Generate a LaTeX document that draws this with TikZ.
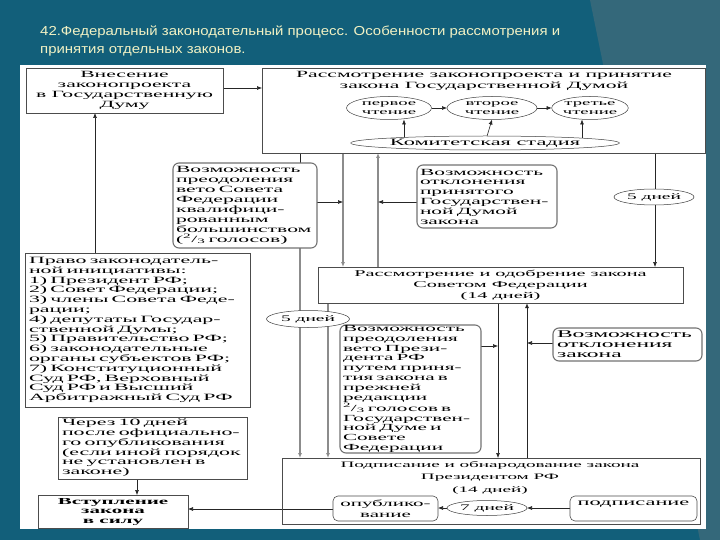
\documentclass[tikz,border=0pt]{standalone}
\usepackage{fontspec}
\setmainfont{Liberation Serif}
\newfontfamily\scanfont[FakeStretch=2.28]{Liberation Serif}
\newfontfamily\ttlfont[FakeStretch=1.15]{Liberation Sans}
\usetikzlibrary{arrows.meta,shapes.geometric}
\pgfdeclarelayer{bg}
\pgfdeclarelayer{lines}
\pgfsetlayers{bg,lines,main}
\definecolor{tealbg}{RGB}{18,95,122}
\definecolor{tealhi}{RGB}{52,104,122}
\definecolor{ttlyellow}{RGB}{242,242,196}
\tikzset{
  bx/.style={draw=black!70, line width=0.6pt, inner sep=0pt, outer sep=0pt, align=center,
    font=\scanfont\fontsize{9.5}{9.8}\selectfont},
  lbx/.style={bx, align=left, inner xsep=5pt},
  rbx/.style={lbx, rounded corners=6pt, draw=black!55, line width=1.1pt},
  ell/.style={ellipse, draw=black!75, line width=0.5pt, fill=white, inner sep=0pt, outer sep=0pt,
    align=center, font=\scanfont\fontsize{8.2}{8.5}\selectfont},
  con/.style={black!85, line width=0.6pt},
  gcon/.style={black!45, line width=1.6pt},
  arr/.style={-{Latex[length=5pt,width=4pt]}},
}
\begin{document}
\begin{tikzpicture}[x=1pt,y=-1pt]
\useasboundingbox (0,0) rectangle (720,540);
\begin{pgfonlayer}{bg}
\fill[tealbg] (0,0) rectangle (720,540);
\fill[tealhi] (590,0) -- (720,0) -- (720,540) -- (700,540) -- cycle;
\fill[white] (20,65) rectangle (706,529);
\end{pgfonlayer}

% title
\node[anchor=west, text=ttlyellow, align=left, inner sep=0pt,
  font=\ttlfont\fontsize{13}{18}\selectfont] (title) at (40,41)
  {42.Федеральный законодательный процесс. Особенности рассмотрения и\\принятия отдельных законов.};

% coordinates for connector columns and rows
\coordinate (x95) at (95,0);
\coordinate (x137) at (137,0);
\coordinate (x300) at (300,0);
\coordinate (x328) at (328,0);
\coordinate (x343) at (343,0);
\coordinate (x378) at (378,0);
\coordinate (x404) at (404,0);
\coordinate (x582) at (582,0);
\coordinate (x498) at (498,0);
\coordinate (x527) at (527,0);
\coordinate (x655) at (655,0);
\coordinate (y88) at (0,88);
\coordinate (y202) at (0,202);
\coordinate (y346) at (0,346);
\coordinate (y343) at (0,343);
\coordinate (y509) at (0,509);

% boxes
\node[bx, minimum width=197, minimum height=45] (box1) at (124.5,90.5)
  {Внесение\\законопроекта\\в Государственную\\Думу};
\node[bx, minimum width=443, minimum height=85] (big) at (483.5,110.5) {};
\node[bx, draw=none, font=\scanfont\fontsize{9.5}{11}\selectfont] (bigtitle) at (484,81)
  {Рассмотрение законопроекта и принятие\\закона Государственной Думой};
\node[ell, minimum width=85, minimum height=23] (p1) at (389,108) {первое\\чтение};
\node[ell, minimum width=90, minimum height=23] (p2) at (492,108) {второе\\чтение};
\node[ell, minimum width=75, minimum height=23] (p3) at (590,108) {третье\\чтение};
\node[ell, minimum width=215, minimum height=14, font=\scanfont\fontsize{9.8}{9.8}\selectfont] (kom) at (485,143) {Комитетская стадия};

\node[rbx, text width=138, inner xsep=3pt, minimum height=85, font=\scanfont\fontsize{9.5}{10}\selectfont] (veto1) at (245,205.5)
  {Возможность\\преодоления\\вето Совета\\Федерации\\квалифици-\\рованным\\большинством\\(\textsuperscript{2}/\textsubscript{3} голосов)};
\node[rbx, text width=134, inner xsep=3pt, minimum height=63, font=\scanfont\fontsize{9.4}{9.8}\selectfont] (otkl1) at (487,196.5)
  {Возможность\\отклонения\\принятого\\Государствен-\\ной Думой\\закона};
\node[ell, minimum width=80, minimum height=16, font=\scanfont\fontsize{8.5}{8.5}\selectfont] (d5a) at (654,197) {5 дней};

\node[bx, minimum width=365, minimum height=36, font=\scanfont\fontsize{8.9}{10.8}\selectfont] (sf) at (500.5,285)
  {Рассмотрение и одобрение закона\\Советом Федерации\\(14 дней)};
\node[ell, minimum width=83, minimum height=17, font=\scanfont\fontsize{8.5}{8.5}\selectfont] (d5b) at (308,319) {5 дней};

\node[rbx, text width=135, inner xsep=3pt, minimum height=128, font=\scanfont\fontsize{9.3}{9.8}\selectfont] (veto2) at (410.5,389)
  {Возможность\\преодоления\\вето Прези-\\дента РФ\\путем приня-\\тия закона в\\прежней\\редакции\\\textsuperscript{2}/\textsubscript{3} голосов в\\Государствен-\\ной Думе и\\Совете\\Федерации};
\node[rbx, text width=141, inner xsep=4pt, minimum height=33, font=\scanfont\fontsize{10.3}{10}\selectfont] (otkl2) at (627.5,344.5)
  {Возможность\\отклонения\\закона};

\node[lbx, text width=217, inner xsep=4pt, minimum height=154, font=\scanfont\fontsize{9.6}{9.8}\selectfont] (pravo) at (137.5,330)
  {Право законодатель-\\ной инициативы:\\1) Президент РФ;\\2) Совет Федерации;\\3) члены Совета Феде-\\рации;\\4) депутаты Государ-\\ственной Думы;\\5) Правительство РФ;\\6) законодательные\\органы субъектов РФ;\\7) Конституционный\\Суд РФ, Верховный\\Суд РФ и Высший\\Арбитражный Суд РФ};
\node[lbx, text width=181, inner xsep=4pt, minimum height=62, font=\scanfont\fontsize{9.6}{9.8}\selectfont] (cherez) at (152.5,448)
  {Через 10 дней\\после официально-\\го опубликования\\(если иной порядок\\не установлен в\\законе)};
\node[bx, minimum width=150, minimum height=33, font=\scanfont\bfseries\fontsize{9.2}{9.5}\selectfont] (vstup) at (113,511.5)
  {Вступление\\закона\\в силу};

\node[bx, minimum width=418, minimum height=66] (sign) at (491,491) {};
\node[bx, draw=none, font=\scanfont\fontsize{8.4}{12.5}\selectfont] (signtitle) at (490,477.5)
  {Подписание и обнародование закона\\Президентом РФ\\(14 дней)};
\node[bx, rounded corners=5pt, minimum width=105, minimum height=25, font=\scanfont\fontsize{9.2}{11}\selectfont] (opub) at (385.5,508.5)
  {опублико-\\вание};
\node[ell, minimum width=80, minimum height=15, font=\scanfont\fontsize{8.5}{8.5}\selectfont] (d7) at (487,508) {7 дней};
\node[bx, rounded corners=5pt, minimum width=127, minimum height=25, font=\scanfont\fontsize{9.8}{8}\selectfont] (podp) at (633.5,508.5)
  {подписание\\\strut};

% connectors
\begin{pgfonlayer}{lines}
\draw[con, arr] (box1.east |- y88) -- (big.west |- y88);
\draw[con, arr] (x95 |- pravo.north) -- (x95 |- box1.south);
\draw[con, arr] (p1.east) -- (p2.west);
\draw[con, arr] (p2.east) -- (p3.west);
\draw[con, arr] (x404 |- kom.center) -- (x404 |- p1.south);
\draw[con, arr] (kom.center) -- (p2.south);
\draw[con, arr] (x582 |- kom.center) -- (x582 |- p3.south);

\draw[gcon, arr] (x343 |- big.south) -- (x343 |- sf.north);
\draw[gcon, arr] (x378 |- sf.north) -- (x378 |- big.south);
\draw[con, arr] (veto1.east |- y202) -- (x343 |- y202);
\draw[con, arr] (otkl1.west |- y202) -- (x378 |- y202);
\draw[con, arr] (x655 |- big.south) -- (x655 |- sf.north);

\draw[con] (x300 |- big.south) -- (x300 |- veto1.north);
\draw[gcon, arr] (x300 |- veto1.south) -- (x300 |- sign.north);
\draw[gcon, arr] (x328 |- sf.south) -- (x328 |- sign.north);
\draw[con, arr] (x498 |- sf.south) -- (x498 |- sign.north);
\draw[con, line width=1pt, arr] (x527 |- sign.north) -- (x527 |- sf.south);
\draw[con, arr] (veto2.east |- y346) -- (x498 |- y346);
\draw[con, arr] (otkl2.west |- y343) -- (x527 |- y343);

\draw[con, arr] (x137 |- cherez.south) -- (x137 |- vstup.north);
\draw[con, arr] (opub.west |- y509) -- (vstup.east |- y509);
\draw[con, arr] (podp.west |- d7) -- (d7.east);
\draw[con, arr] (d7.west) -- (opub.east |- d7);
\end{pgfonlayer}
\end{tikzpicture}
\end{document}
